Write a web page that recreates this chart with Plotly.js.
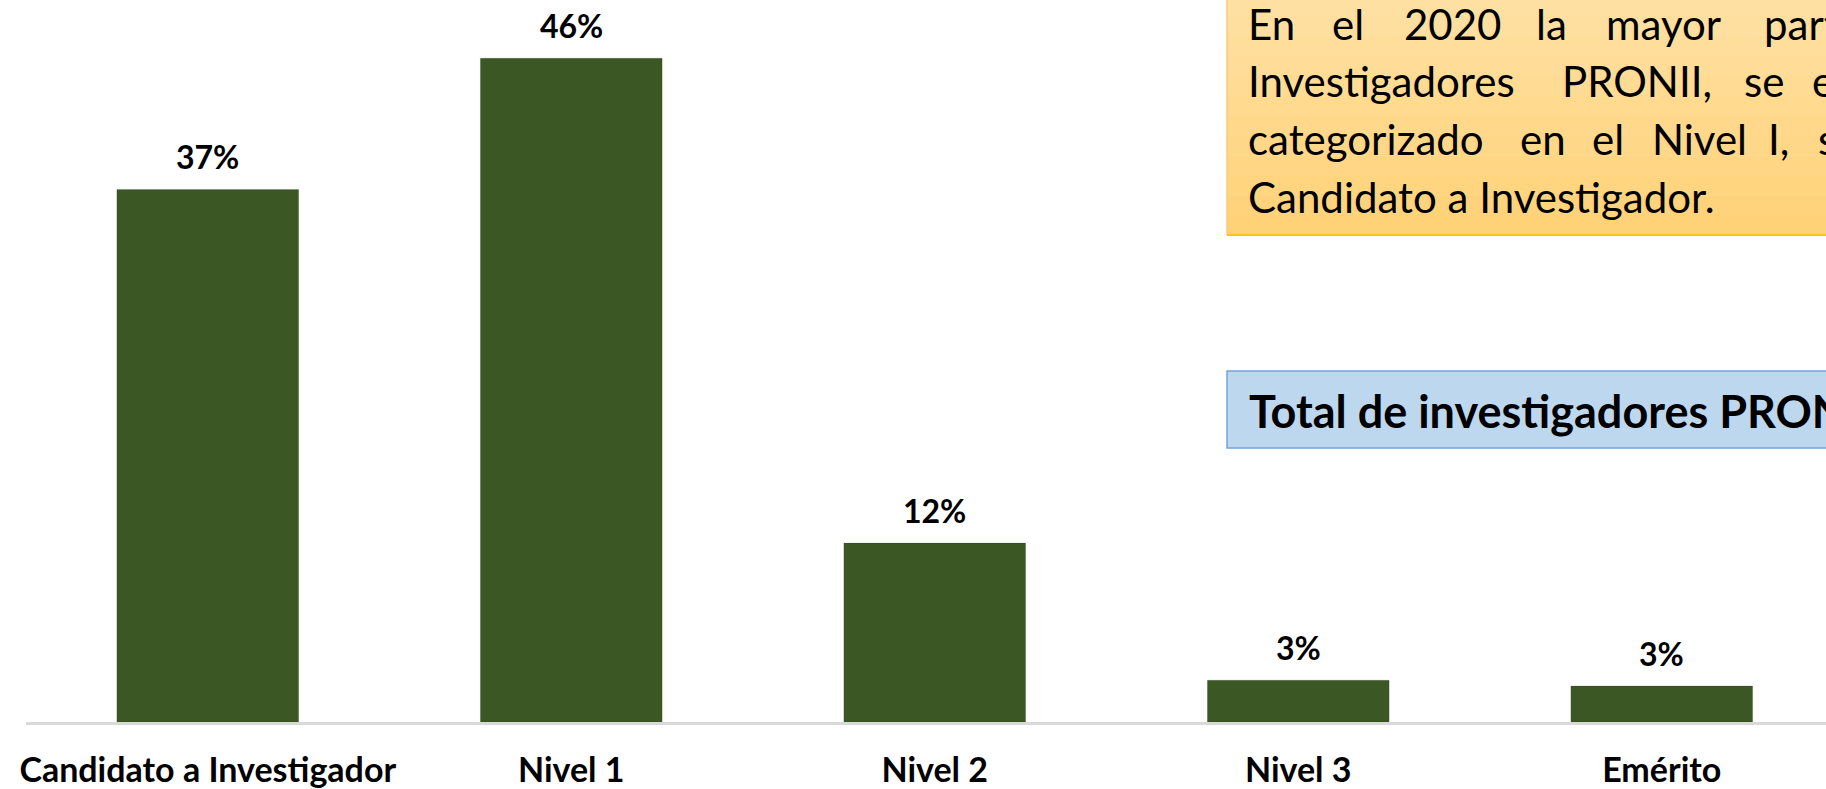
<!DOCTYPE html>
<html>
<head>
<meta charset="utf-8">
<script src="https://cdn.plot.ly/plotly-3.0.1.min.js"></script>
<style>html,body{margin:0;padding:0;background:#fff;}#chart{width:1826px;height:789px;}</style>
</head>
<body>
<div id="chart"></div>
<script>
// ---- data ----
const categories = ["Candidato a Investigador", "Nivel 1", "Nivel 2", "Nivel 3", "Emérito"];
const percentages = [36.9, 46.0, 12.4, 2.9, 2.5];
const valueLabels = percentages.map(v => Math.round(v) + "%");

const noteLines = [
  ["En", "el", "2020", "la", "mayor", "parte"],
  ["Investigadores", "PRONII,", "se", "encuentra"],
  ["categorizado", "en", "el", "Nivel", "I,", "seguido"],
  ["Candidato a Investigador."]
];
const totalText = "Total de investigadores PRONII";

// ---- layout helpers (pixel -> paper) ----
const W = 1826, H = 789;
const ML = 26, MR = 0, MT = 0, MB = 67;
const PW = W - ML - MR, PH = H - MT - MB;
const X = px => (px - ML) / PW;
const Y = py => 1 - (py - MT) / PH;

const green = "#3B5724";
const font = "Lato, 'Open Sans', sans-serif";

const trace = {
  type: "bar",
  x: categories,
  y: percentages,
  width: 0.5,
  marker: { color: green, line: { color: "rgba(0,0,0,0.12)", width: 1 } },
  hoverinfo: "x+y"
};

const annotations = [];
// value labels above bars
categories.forEach((c, i) => {
  annotations.push({
    x: c, y: percentages[i], xref: "x", yref: "y",
    text: valueLabels[i], showarrow: false,
    yanchor: "bottom", yshift: 11,
    font: { family: font, size: 32, color: "#000", weight: 700 }
  });
});

// note box words (justified)
const wordX = [
  [1247, 1331, 1403, 1535, 1605, 1763],
  [1247, 1561, 1743, 1811],
  [1247, 1519, 1591, 1651, 1767, 1817],
  [1247]
];
const baselines = [39, 96, 154, 212];
const bodySize = 42;
noteLines.forEach((line, li) => {
  line.forEach((w, wi) => {
    annotations.push({
      xref: "paper", yref: "paper",
      x: X(wordX[li][wi]), y: Y(baselines[li] - 0.36 * bodySize),
      xanchor: "left", yanchor: "middle", borderpad: 0,
      text: w, showarrow: false,
      font: { family: font, size: bodySize, color: "#000" }
    });
  });
});
annotations.push({
  xref: "paper", yref: "paper",
  x: X(1247), y: Y(411), xanchor: "left", yanchor: "middle",
  text: totalText, showarrow: false,
  font: { family: font, size: 45, color: "#000", weight: 700 }
});

// shapes: gradient orange note box + blue total box
const shapes = [];
const boxTop = -4, boxBot = 235, nb = 12;
const c0 = [255, 224, 163], c1 = [255, 210, 120];
for (let k = 0; k < nb; k++) {
  const t = k / (nb - 1);
  const col = c0.map((v, j) => Math.round(v + (c1[j] - v) * t));
  shapes.push({
    type: "rect", xref: "paper", yref: "paper", layer: "below",
    x0: X(1227), x1: X(1840),
    y0: Y(boxTop + (boxBot - boxTop) * (k + 1) / nb + 0.5), y1: Y(boxTop + (boxBot - boxTop) * k / nb),
    fillcolor: `rgb(${col.join(",")})`, line: { width: 0 }
  });
}
shapes.push({ type: "line", xref: "paper", yref: "paper", layer: "below",
  x0: X(1227), x1: X(1227), y0: Y(boxBot), y1: Y(boxTop), line: { color: "#F7CD7A", width: 1.5 } });
shapes.push({ type: "line", xref: "paper", yref: "paper", layer: "below",
  x0: X(1227), x1: X(1840), y0: Y(boxBot), y1: Y(boxBot), line: { color: "#FFC21A", width: 2 } });
shapes.push({ type: "rect", xref: "paper", yref: "paper", layer: "below",
  x0: X(1227), x1: X(1840), y0: Y(448), y1: Y(371),
  fillcolor: "#BDD7EE", line: { color: "#73A5DA", width: 1.5 } });

const layout = {
  width: W, height: H,
  margin: { l: ML, r: MR, t: MT, b: MB, pad: 0 },
  paper_bgcolor: "#fff", plot_bgcolor: "#fff",
  showlegend: false,
  bargap: 0.5,
  xaxis: {
    type: "category",
    range: [-0.5, -0.5 + PW / 363.5],
    showline: true, linecolor: "#D9D9D9", linewidth: 3,
    showgrid: false, zeroline: false, ticks: "",
    ticklabelstandoff: 16,
    tickfont: { family: font, size: 34, color: "#000", weight: 700 },
    fixedrange: true
  },
  yaxis: {
    range: [0, 50.03], visible: false, showgrid: false, zeroline: false, fixedrange: true
  },
  shapes: shapes,
  annotations: annotations
};

Plotly.newPlot("chart", [trace], layout, { displayModeBar: false, staticPlot: true });
</script>
</body>
</html>
